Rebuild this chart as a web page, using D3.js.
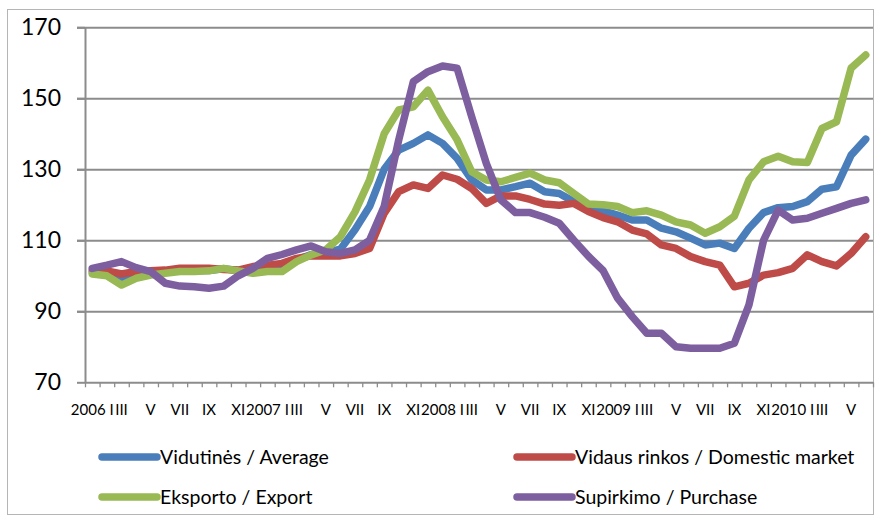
<!DOCTYPE html>
<html>
<head>
<meta charset="utf-8">
<script src="https://cdn.jsdelivr.net/npm/d3@7"></script>
<style>
  body { margin: 0; background: #fff; }
  svg text { font-family: Lato, 'Open Sans', sans-serif; fill: #000; }
</style>
</head>
<body>
<div class="chart"></div>
<script>
// months 2006 I .. 2010 VI
var categories = [
  '2006 I', 'II', 'III', 'IV', 'V', 'VI', 'VII', 'VIII', 'IX', 'X', 'XI', 'XII',
  '2007 I', 'II', 'III', 'IV', 'V', 'VI', 'VII', 'VIII', 'IX', 'X', 'XI', 'XII',
  '2008 I', 'II', 'III', 'IV', 'V', 'VI', 'VII', 'VIII', 'IX', 'X', 'XI', 'XII',
  '2009 I', 'II', 'III', 'IV', 'V', 'VI', 'VII', 'VIII', 'IX', 'X', 'XI', 'XII',
  '2010 I', 'II', 'III', 'IV', 'V', 'VI'
]

var yTicks = [70, 90, 110, 130, 150, 170]

var seriesNames = ['Vidutinės / Average', 'Vidaus rinkos / Domestic market', 'Eksporto / Export', 'Supirkimo / Purchase']

var average = [
  101, 101, 99.5, 100.5, 101, 101, 101.5, 101.5, 101.5, 102, 101.5, 101.5, 102, 102.5, 104.5, 106, 106.5,
  107.5, 113, 119.5, 130, 135.4, 137.3, 139.7, 137.3, 133.1, 127, 124.2, 124.2, 125.1, 126.1, 123.7, 123.2, 120.9, 119, 118.3,
  117.1, 115.7, 115.7, 113.4, 112.4, 110.6, 108.7, 109.2, 107.7, 113.4, 117.8, 119.2, 119.5, 120.9, 124.4, 125.1, 134, 138.5
]

var domestic = [
  101.6, 101.4, 100.5, 101.2, 101.4, 101.6, 102.1, 102.1, 102.1, 101.8, 101.6, 102.6, 103, 103.5, 104.9, 105.6, 105.6,
  105.6, 106.3, 107.7, 117.6, 123.7, 125.6, 124.6, 128.4, 127.2, 124.6, 120.4, 122.5, 122.5, 121.5, 120.2, 119.9, 120.4, 118.1, 116.4,
  115.2, 112.9, 111.8, 108.7, 107.7, 105.4, 104, 103, 96.9, 97.9, 100.2, 100.9, 102.1, 105.9, 104, 102.8, 106.3, 111
]

var exportData = [
  100.5, 100, 97.4, 99.3, 100.2, 100.7, 101.2, 101.2, 101.4, 102.1, 101.4, 100.7, 101.2, 101.2, 104, 105.9, 107.3,
  111, 118, 127, 140, 146.7, 147.6, 152.3, 144.8, 138.3, 129.3, 127, 126.5, 127.7, 128.9, 127, 126.2, 123.2, 120.2, 120,
  119.5, 117.8, 118.3, 117.1, 115.2, 114.3, 112, 113.8, 116.8, 127, 132.1, 133.7, 132.1, 131.9, 141.5, 143.4, 158.5, 162.2
]

var purchase = [
  102.1, 103, 104, 102.3, 101.2, 97.9, 97.1, 96.9, 96.5, 97.1, 100, 102.1, 104.9, 106, 107.3, 108.4, 106.8,
  106.3, 107.3, 110, 119.5, 138.3, 154.7, 157.5, 159.1, 158.5, 144.8, 131.7, 121.4, 117.8, 117.8, 116.5, 114.8, 110, 105.5, 101.5,
  93.7, 88.5, 83.8, 83.8, 80, 79.6, 79.6, 79.6, 81, 91.8, 110, 118.5, 115.7, 116.2, 117.6, 119, 120.4, 121.4
]

var colors = ['#4a7ebb', '#be4b48', '#98b954', '#7d5fa0']
var allSeries = [average, domestic, exportData, purchase]

var W = 875, H = 519
var margin = { top: 27.3, left: 85, right: 2, bottom: 136.7 }
var width = W - margin.left - margin.right
var height = H - margin.top - margin.bottom

var svg = d3.select('.chart')
  .append('svg')
  .attr('width', W)
  .attr('height', H)

// chart area border
svg.append('rect')
  .attr('x', 7.5).attr('y', 9.5)
  .attr('width', 866).attr('height', 505)
  .attr('fill', 'none')
  .attr('stroke', '#b5b5b5')
  .attr('stroke-width', 1)

var g = svg.append('g')
  .attr('transform', 'translate(' + margin.left + ',' + margin.top + ')')

var xBand = d3.scaleBand()
  .domain(categories.map((c, i) => i))
  .range([0, width])
  .padding(0)

var xIdx = d3.scaleLinear()
  .domain([0, categories.length])
  .range([0, width])

var yScale = d3.scaleLinear()
  .domain([70, 170])
  .range([height, 0])

// gridlines
g.append('g')
  .attr('class', 'grid')
  .call(d3.axisLeft(yScale).tickValues(yTicks.slice(1)).tickSize(-width).tickFormat(''))
  .call(s => s.select('.domain').remove())
  .call(s => s.selectAll('line').attr('stroke', '#8c8c8c').attr('stroke-width', 2).attr('transform', 'translate(-8,0)').attr('x2', width + 8))

// y axis
g.append('g')
  .call(d3.axisLeft(yScale).tickValues(yTicks).tickSize(8).tickSizeOuter(0).tickPadding(16))
  .call(s => s.select('.domain').attr('stroke', '#8c8c8c').attr('stroke-width', 2))
  .call(s => s.selectAll('line').attr('stroke', '#8c8c8c').attr('stroke-width', 2))
  .call(s => s.selectAll('text').attr('font-size', 23).attr('font-family', 'Lato, sans-serif'))

// x axis tick marks between categories
g.append('g')
  .attr('transform', 'translate(0,' + height + ')')
  .call(d3.axisBottom(xIdx).tickValues(d3.range(categories.length + 1)).tickSize(5).tickSizeOuter(0).tickFormat(''))
  .call(s => s.select('.domain').attr('stroke', '#8c8c8c').attr('stroke-width', 2))
  .call(s => s.selectAll('line').attr('stroke', '#8c8c8c').attr('stroke-width', 1.3))

// x axis labels, every second month
g.append('g')
  .attr('transform', 'translate(0,' + height + ')')
  .call(d3.axisBottom(xBand).tickSize(0).tickPadding(22)
    .tickFormat(i => i % 2 === 0 ? categories[i] : ''))
  .call(s => s.select('.domain').remove())
  .call(s => s.selectAll('text').attr('font-size', 15).attr('font-family', 'Lato, sans-serif'))

// lines
var line = d3.line()
  .x((d, i) => xBand(i) + xBand.bandwidth() / 2)
  .y(d => yScale(d))

g.selectAll('.series')
  .data(allSeries)
  .enter()
  .append('path')
  .attr('class', 'series')
  .attr('d', d => line(d))
  .attr('fill', 'none')
  .attr('stroke', (d, i) => colors[i])
  .attr('stroke-width', 7.5)
  .attr('stroke-linejoin', 'round')
  .attr('stroke-linecap', 'round')

// legend
var legendPos = [[102, 457], [517, 457], [102, 497], [517, 497]]
var legend = svg.selectAll('.legend')
  .data(seriesNames)
  .enter()
  .append('g')
  .attr('class', 'legend')
  .attr('transform', (d, i) => 'translate(' + legendPos[i][0] + ',' + legendPos[i][1] + ')')

legend.append('line')
  .attr('x1', 0).attr('x2', 55)
  .attr('stroke', (d, i) => colors[i])
  .attr('stroke-width', 7.5)
  .attr('stroke-linecap', 'round')

legend.append('text')
  .attr('x', 58)
  .attr('dy', '0.35em')
  .attr('font-size', 19.5)
  .text(d => d)
</script>
</body>
</html>
